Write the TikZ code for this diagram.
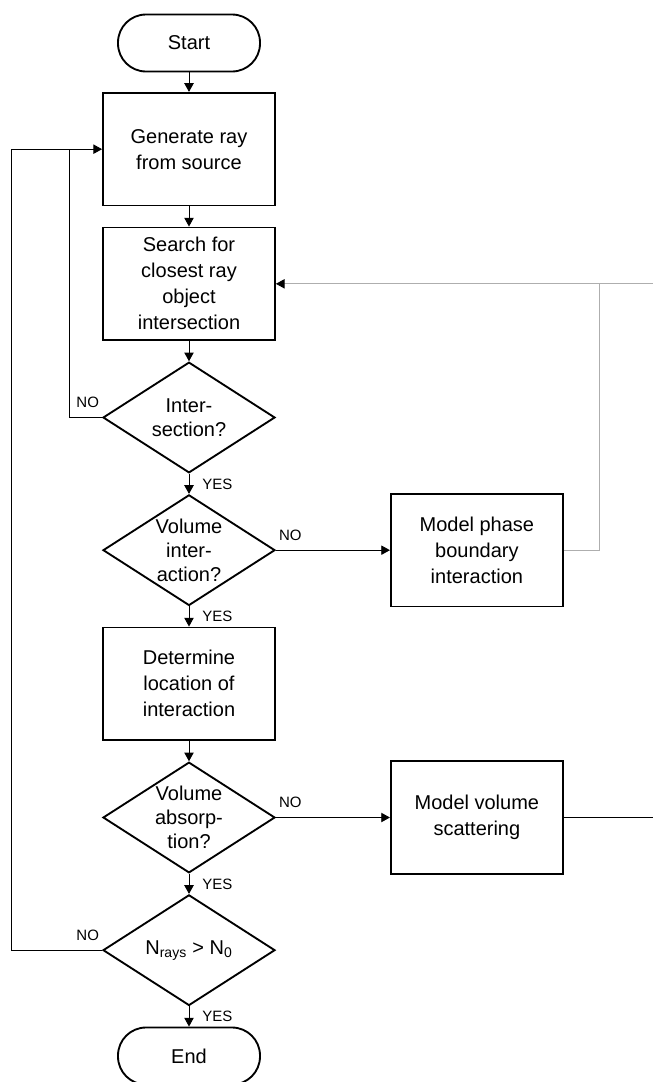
\documentclass[tikz,border=0pt]{standalone}
\usepackage{fontspec}
\setmainfont{Liberation Sans}
\usetikzlibrary{arrows.meta,positioning,shapes.geometric,calc}
\definecolor{raygray}{HTML}{AEAEAE}
\tikzset{
  term/.style={draw, line width=1.4pt, rounded corners=21pt,
    minimum width=106.5pt, minimum height=42.75pt, font=\fontsize{15}{19.5}\selectfont},
  proc/.style={draw, line width=1.4pt, minimum width=129pt, minimum height=84.5pt,
    align=center, font=\fontsize{15}{19.5}\selectfont},
  decide/.style={draw, diamond, line width=1.4pt, aspect=1.55, inner sep=0pt,
    minimum width=129pt, minimum height=83pt, align=center, font=\fontsize{15}{18}\selectfont},
  flow/.style={-{Triangle[length=6.5pt, width=7pt, color=black]}, line width=0.7pt},
  back/.style={line width=0.7pt},
  yesno/.style={font=\fontsize{11.25}{13}\selectfont, inner sep=2pt},
}

\begin{document}
\begin{tikzpicture}[x=0.75pt, y=-0.75pt, node distance=15.1pt and 85.5pt]
\useasboundingbox (0,0) rectangle (653,1082);
\node[term] (start) at (189,43) {Start};
\node[proc, below=14.6pt of start] (gen) {Generate ray\\from source};
\node[proc, below=of gen] (search) {Search for\\closest ray\\object\\intersection};
\node[decide, below=of search] (inter) {Inter-\\section?};
\node[decide, below=of inter] (volint) {Volume\\inter-\\action?};
\node[proc, right=of volint] (phase) {Model phase\\boundary\\interaction};
\node[proc, below=of volint] (loc) {Determine\\location of\\interaction};
\node[decide, below=of loc] (absorp) {Volume\\absorp-\\tion?};
\node[proc, right=of absorp] (scatter) {Model volume\\scattering};
\node[decide, below=of absorp] (nrays) {N\textsubscript{rays} > N\textsubscript{0}};
\node[term, below=of nrays] (end) {End};

\draw[flow] (start) -- (gen);
\draw[flow] (gen) -- (search);
\draw[flow] (search) -- (inter);
\draw[flow] (inter) -- node[yesno, right=7.75pt] {YES} (volint);
\draw[flow] (volint) -- node[yesno, pos=0, above right=5pt and 0pt] {NO} (phase);
\draw[flow] (volint) -- node[yesno, right=7.75pt] {YES} (loc);
\draw[flow] (loc) -- (absorp);
\draw[flow] (absorp) -- node[yesno, pos=0, above right=5pt and 0pt] {NO} (scatter);
\draw[flow] (absorp) -- node[yesno, right=7.75pt] {YES} (nrays);
\draw[flow] (nrays) -- node[yesno, right=7.75pt] {YES} (end);

% loops back to the source
\coordinate (jn) at ($(gen.west)+(-24.75pt,0pt)$);
\draw[flow] (inter.west) node[yesno, above left=5pt and 0pt] {NO} -| (jn) -- (gen.west);
\draw[back] (nrays.west) node[yesno, above left=5pt and 0pt] {NO} -- ++(-68.25pt,0pt) |- (jn);

% loops back to the search
\coordinate (fork) at ($(phase.east)+(27pt,0pt)$);
\coordinate (rim) at ($(scatter.east)+(68.6pt,0pt)$);
\draw[back] (scatter.east) -- (rim);
\draw[back, raygray] (rim) |- (search.east);
\draw[flow, raygray] (phase.east) -- (fork) |- (search.east);
\end{tikzpicture}
\end{document}
